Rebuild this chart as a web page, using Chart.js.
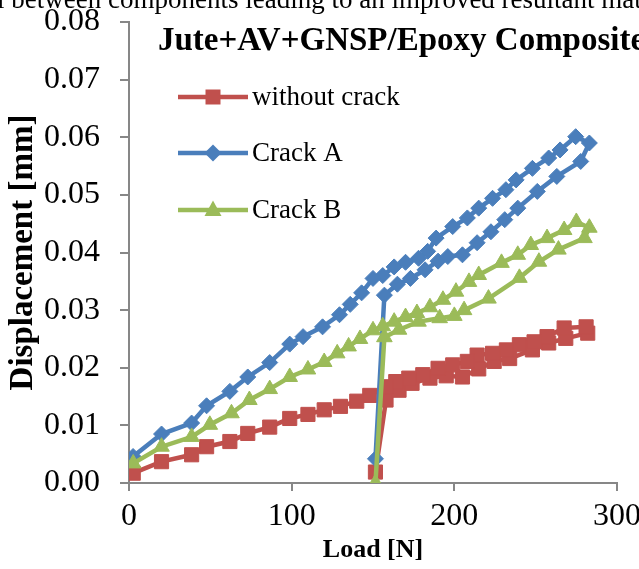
<!DOCTYPE html>
<html>
<head>
<meta charset="utf-8">
<script src="https://cdn.jsdelivr.net/npm/chart.js@4.4.0/dist/chart.umd.min.js"></script>
<style>
    body { margin: 0; background: #fff; }
    #wrap { width: 639px; height: 569px; }
</style>
</head>
<body>
<div id="wrap"><canvas id="loadChart" width="639" height="569"></canvas></div>
<script>
// Load [N] / displacement [mm], in the order the curves are traced
const loadNoCrack = [151.5, 158, 166, 174, 185, 195, 205, 215, 224.5, 234, 248, 258, 268.5, 282,
    281, 267.5, 257, 249, 240, 232, 223.5, 214, 208, 199, 190, 180.6, 172, 164, 158,
    148, 140, 130, 120, 110, 98.8, 86.5, 73, 62, 47.7, 38.5, 20, 2.6];
const dispNoCrack = [0.0019, 0.0144, 0.0161, 0.0173, 0.0182, 0.0186, 0.0184, 0.0198, 0.0211, 0.0216, 0.0231, 0.0243, 0.0251, 0.0260,
    0.0271, 0.0269, 0.0254, 0.0245, 0.0240, 0.0231, 0.0225, 0.0222, 0.0211, 0.0205, 0.0199, 0.0188, 0.0182, 0.0176, 0.0167,
    0.0152, 0.0142, 0.0133, 0.0127, 0.0119, 0.0112, 0.0097, 0.0086, 0.0072, 0.0063, 0.0049, 0.0037, 0.0017];

const loadCrackA = [151.5, 157, 165, 173, 182, 190, 196, 205, 214, 222.5, 231, 239, 251, 263, 277.7, 283,
    274.6, 265, 258, 248, 238, 231.7, 223.5, 215, 208, 199, 188.8, 183.6, 178, 170, 163, 156, 150,
    143, 136, 129.4, 119, 107, 98.8, 86.5, 73, 62, 47.7, 38.5, 20, 2.5];
const dispCrackA = [0.0042, 0.0326, 0.0345, 0.0355, 0.0370, 0.0385, 0.0393, 0.0396, 0.0417, 0.0436, 0.0457, 0.0477, 0.0506, 0.0532, 0.0558, 0.0590,
    0.0601, 0.0578, 0.0564, 0.0546, 0.0526, 0.0509, 0.0494, 0.0477, 0.0460, 0.0445, 0.0425, 0.0402, 0.0390, 0.0383, 0.0375, 0.0360, 0.0355,
    0.0330, 0.0310, 0.0292, 0.0271, 0.0254, 0.0241, 0.0209, 0.0184, 0.0159, 0.0134, 0.0104, 0.0085, 0.0046];

const loadCrackB = [151.5, 157, 166, 178, 191, 200, 206, 221, 240, 252, 264, 280, 283,
    275, 267.5, 257, 247, 239, 229, 215, 209, 201, 193, 185, 177, 170, 163, 156, 150,
    142, 135, 128, 120, 110, 98.8, 86.5, 74, 63, 49.7, 38.5, 20, 2.6];
const dispCrackB = [0.0000, 0.0253, 0.0266, 0.0280, 0.0286, 0.0290, 0.0300, 0.0320, 0.0356, 0.0384, 0.0405, 0.0425, 0.0443,
    0.0453, 0.0439, 0.0425, 0.0413, 0.0396, 0.0382, 0.0361, 0.0349, 0.0332, 0.0318, 0.0305, 0.0295, 0.0288, 0.0280, 0.0272, 0.0265,
    0.0250, 0.0237, 0.0225, 0.0210, 0.0197, 0.0184, 0.0163, 0.0144, 0.0121, 0.0101, 0.0080, 0.0063, 0.0034];

const seriesNames = ['without crack', 'Crack A', 'Crack B'];
const seriesColors = ['#c0504d', '#4a7ebb', '#9bbb59'];
const xTicks = [0, 100, 200, 300];
const yTicks = [0, 0.01, 0.02, 0.03, 0.04, 0.05, 0.06, 0.07, 0.08];

const chartTitle = 'Jute+AV+GNSP/Epoxy Composite';
const pageText = 'l between components leading to an improved resultant mat';

const SERIF = "'Liberation Serif', 'Times New Roman', serif";
const AXIS_GREY = '#878787';

function toPoints(xs, ys) {
    return xs.map((x, i) => ({ x: x, y: ys[i] }));
}

/**
 * Dibuja el marcador de la leyenda
 */
function drawMarker(ctx, style, x, y, color) {
    ctx.fillStyle = color;
    ctx.beginPath();
    if (style === 'rect') {
        ctx.rect(x - 7.5, y - 7.5, 15, 15);
    } else if (style === 'rectRot') {
        ctx.moveTo(x, y - 8.5);
        ctx.lineTo(x + 8.5, y);
        ctx.lineTo(x, y + 8.5);
        ctx.lineTo(x - 8.5, y);
        ctx.closePath();
    } else {
        ctx.moveTo(x, y - 9.5);
        ctx.lineTo(x + 8.5, y + 6);
        ctx.lineTo(x - 8.5, y + 6);
        ctx.closePath();
    }
    ctx.fill();
}

const overlayText = {
    id: 'overlayText',
    afterDraw(chart) {
        const ctx = chart.ctx;
        ctx.save();
        ctx.fillStyle = '#000';
        ctx.textAlign = 'left';
        ctx.textBaseline = 'alphabetic';
        ctx.font = '27px ' + SERIF;
        ctx.fillText(pageText, -3, 8);
        ctx.font = 'bold 33px ' + SERIF;
        ctx.fillText(chartTitle, 158, 50);

        const rows = [97, 153, 210];
        chart.data.datasets.forEach((ds, i) => {
            const y = rows[i];
            ctx.strokeStyle = ds.borderColor;
            ctx.lineWidth = 4.5;
            ctx.beginPath();
            ctx.moveTo(178, y);
            ctx.lineTo(248, y);
            ctx.stroke();
            drawMarker(ctx, ds.pointStyle, 213, y, ds.borderColor);
            ctx.fillStyle = '#000';
            ctx.font = '27px ' + SERIF;
            ctx.textBaseline = 'middle';
            ctx.fillText(ds.label, 252, y + 1);
        });
        ctx.restore();
    }
};

const lines = [
    { xs: loadNoCrack, ys: dispNoCrack, style: 'rect', radius: 10, order: 2 },
    { xs: loadCrackA, ys: dispCrackA, style: 'rectRot', radius: 8, order: 1 },
    { xs: loadCrackB, ys: dispCrackB, style: 'triangle', radius: 9, order: 0 }
];

const ctx = document.getElementById('loadChart').getContext('2d');
const loadChart = new Chart(ctx, {
    type: 'scatter',
    data: {
        datasets: lines.map((s, i) => ({
            label: seriesNames[i],
            data: toPoints(s.xs, s.ys),
            showLine: true,
            borderColor: seriesColors[i],
            backgroundColor: seriesColors[i],
            borderWidth: 4.5,
            pointStyle: s.style,
            pointRadius: s.radius,
            pointBorderWidth: 1,
            pointBackgroundColor: seriesColors[i],
            pointBorderColor: seriesColors[i],
            order: s.order
        }))
    },
    options: {
        responsive: false,
        devicePixelRatio: 1,
        animation: false,
        layout: { padding: { top: 22, right: 22, left: 0, bottom: 0 } },
        plugins: {
            legend: { display: false },
            title: { display: false },
            tooltip: { enabled: false }
        },
        scales: {
            x: {
                type: 'linear',
                min: 0,
                max: 300,
                afterBuildTicks: axis => { axis.ticks = xTicks.map(v => ({ value: v })); },
                afterFit: axis => { axis.height = 86; axis.paddingLeft = 0; axis.paddingRight = 0; },
                ticks: {
                    color: '#000',
                    padding: 6,
                    maxRotation: 0,
                    font: { family: SERIF, size: 32 }
                },
                grid: {
                    drawOnChartArea: false,
                    drawTicks: true,
                    tickLength: 8,
                    color: AXIS_GREY,
                    lineWidth: 2
                },
                border: { color: AXIS_GREY, width: 2 },
                title: {
                    display: true,
                    text: 'Load [N]',
                    color: '#000',
                    padding: { top: 0, bottom: 3 },
                    font: { family: SERIF, size: 26, weight: 'bold' }
                }
            },
            y: {
                type: 'linear',
                min: 0,
                max: 0.08,
                afterBuildTicks: axis => { axis.ticks = yTicks.map(v => ({ value: v })); },
                afterFit: axis => { axis.width = 129; axis.paddingTop = 0; axis.paddingBottom = 0; },
                ticks: {
                    color: '#000',
                    padding: 20,
                    callback: v => v.toFixed(2),
                    font: { family: SERIF, size: 32 }
                },
                grid: {
                    drawOnChartArea: false,
                    drawTicks: true,
                    tickLength: 9,
                    color: AXIS_GREY,
                    lineWidth: 2
                },
                border: { color: AXIS_GREY, width: 2 },
                title: {
                    display: true,
                    text: 'Displacement [mm]',
                    color: '#000',
                    padding: { top: 4, bottom: 0 },
                    font: { family: SERIF, size: 33, weight: 'bold' }
                }
            }
        }
    },
    plugins: [overlayText]
});
</script>
</body>
</html>
